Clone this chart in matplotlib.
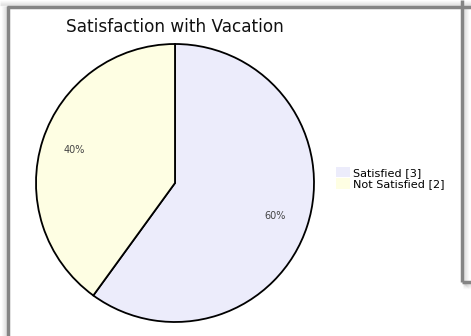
import matplotlib
matplotlib.use("Agg")
import matplotlib.pyplot as plt
from matplotlib.lines import Line2D
from matplotlib.patches import Patch

# survey counts
categories = ["Satisfied", "Not Satisfied"]
counts = [3, 2]
colors = ["#ececfb", "#fefee3"]
title = "Satisfaction with Vacation"

W, H = 471, 336
fig = plt.figure(figsize=(W / 100, H / 100), dpi=100)
fig.patch.set_facecolor("white")


def px(x, y):
    # pixel coords (top-left origin) -> figure fraction
    return x / W, 1 - y / H


def frame_line(xs, ys, lw=2.5, color="#858585", alpha=1.0):
    pts = [px(x, y) for x, y in zip(xs, ys)]
    fig.add_artist(Line2D([p[0] for p in pts], [p[1] for p in pts],
                          transform=fig.transFigure, color=color, lw=lw,
                          alpha=alpha, solid_capstyle="butt"))


# soft shadows around the window edges
for i in range(1, 6):
    a = 0.09 * (6 - i) / 5
    frame_line([7 - i, 7 - i], [6, H], lw=1, color="black", alpha=a)
    frame_line([0, W], [6 - i, 6 - i], lw=1, color="black", alpha=a)
    frame_line([463 + i, 463 + i], [7, 283 + i], lw=1, color="black", alpha=a)
    frame_line([463, W], [283 + i, 283 + i], lw=1, color="black", alpha=a)

# window borders
frame_line([8, 8], [6, H])
frame_line([7, W], [6.5, 6.5])
frame_line([461.5, 461.5], [0, 282])
frame_line([461.5, W], [281.5, 281.5])

ax = fig.add_axes([(175 - 139) / W, 1 - (183 + 139) / H, 278 / W, 278 / H])
wedges, texts, autotexts = ax.pie(
    counts, colors=colors, startangle=90, counterclock=False,
    autopct=lambda p: f"{p:.0f}%", pctdistance=0.76,
    wedgeprops=dict(edgecolor="black", linewidth=1.3),
    textprops=dict(fontsize=7, color="#444444"))
ax.set_aspect("equal")
ax.set_xlim(-1, 1)
ax.set_ylim(-1, 1)

fig.text(*px(175, 27), title, fontsize=12.2, color="#111111",
         ha="center", va="center")

labels = [f"{c} [{n}]" for c, n in zip(categories, counts)]
handles = [Patch(facecolor=c, edgecolor="none") for c in colors]
fig.legend(handles, labels, loc="center left", bbox_to_anchor=px(336, 178),
           frameon=False, fontsize=8.1, handlelength=1.25, handleheight=1.05,
           handletextpad=0.25, labelspacing=0.05, borderpad=0,
           borderaxespad=0)

fig.savefig("out.png", dpi=100)
